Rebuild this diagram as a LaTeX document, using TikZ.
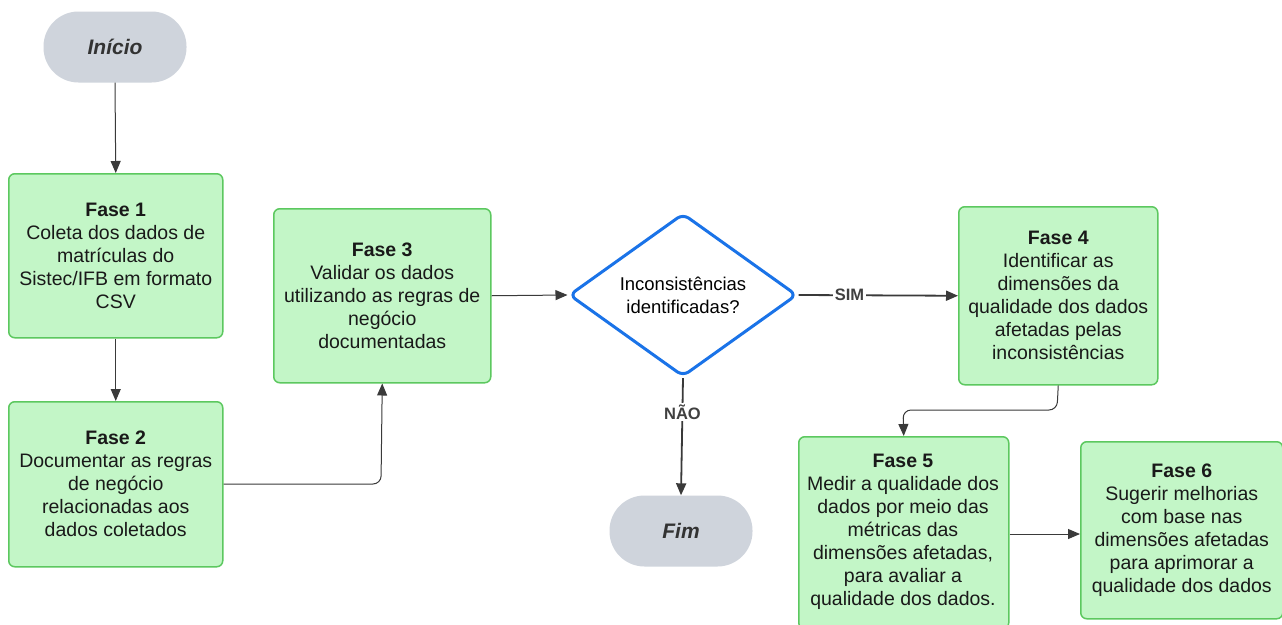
\documentclass[tikz,border=0pt]{standalone}
\usepackage{fontspec}
\setmainfont{Liberation Sans}
\usetikzlibrary{shapes.geometric,arrows.meta,positioning}
\definecolor{boxfill}{HTML}{C3F6C7}
\definecolor{boxline}{HTML}{5CC85F}
\definecolor{pillfill}{HTML}{CFD4DC}
\definecolor{diaLine}{HTML}{1A73E8}
\definecolor{edgecol}{HTML}{3A3A3A}
\begin{document}
\begin{tikzpicture}[x=1pt,y=-1pt,
  phase/.style={draw=boxline,line width=1.5pt,fill=boxfill,rounded corners=6pt,align=center,
    inner sep=0pt,anchor=north west},
  ptext/.style={align=center,font=\fontsize{19.5}{23}\selectfont,text=black!90},
  pill/.style={fill=pillfill,rounded corners=35pt,font=\fontsize{21}{23}\selectfont\bfseries\itshape,
    text=black!80,minimum width=143pt,minimum height=71pt},
  flow/.style={draw=edgecol,line width=1pt,-{Triangle[length=12pt,width=10pt]}},
  bold flow/.style={flow,line width=1.8pt},
  lbl/.style={fill=white,font=\fontsize{16.5}{18}\selectfont\bfseries,text=black!75,inner sep=1.5pt}
]
\useasboundingbox (0,0) rectangle (1282,624);
\fill[white] (0,0) rectangle (1282,624);

\node[pill] (ini) at (115,47) {Início};
\node[pill] (fim) at (681,531) {Fim};

\node[phase,minimum width=214pt,minimum height=164pt] (f1) at (8,173) {};
\node[ptext] at (f1.center) {\textbf{Fase 1}\\Coleta dos dados de\\matrículas do\\Sistec/IFB em formato\\CSV};

\node[phase,minimum width=214pt,minimum height=165pt] (f2) at (8,401) {};
\node[ptext] at (f2.center) {\textbf{Fase 2}\\Documentar as regras\\de negócio\\relacionadas aos\\dados coletados};

\node[phase,minimum width=217pt,minimum height=174pt] (f3) at (273,208) {};
\node[ptext] at (f3.center) {\textbf{Fase 3}\\Validar os dados\\utilizando as regras de\\negócio\\documentadas};

\node[diamond,draw=diaLine,line width=3pt,fill=white,rounded corners=7pt,inner sep=0pt,
  minimum width=228pt,minimum height=162pt,align=center,font=\fontsize{18.5}{23}\selectfont] (dec) at (683,295)
  {Inconsistências\\identificadas?};

\node[phase,minimum width=199pt,minimum height=178pt] (f4) at (958,206) {};
\node[ptext] at (f4.center) {\textbf{Fase 4}\\Identificar as\\dimensões da\\qualidade dos dados\\afetadas pelas\\inconsistências};

\node[phase,minimum width=210pt,minimum height=192pt] (f5) at (798,436) {};
\node[ptext] at (903,532) {\textbf{Fase 5}\\Medir a qualidade dos\\dados por meio das\\métricas das\\dimensões afetadas,\\para avaliar a\\qualidade dos dados.};

\node[phase,minimum width=202pt,minimum height=177pt] (f6) at (1080,441) {};
\node[ptext] at (f6.center) {\textbf{Fase 6}\\Sugerir melhorias\\com base nas\\dimensões afetadas\\para aprimorar a\\qualidade dos dados};

\draw[flow] (ini.south) -- (f1.north);
\draw[flow] (f1.south) -- (f2.north);
\draw[flow,rounded corners=8pt] (f2.east |- 0,484) -- (381,484) -- (f3.south);
\draw[flow] (f3.east) -- (dec.west);
\draw[bold flow] (dec.east) -- node[lbl,pos=0.32]{SIM} (f4.west);
\draw[bold flow] (dec.south) -- node[lbl,pos=0.29]{NÃO} (fim.north);
\draw[flow,rounded corners=8pt] (f4.south) -- (1057,410) -- (903,410) -- (f5.north);
\draw[flow] (f5.east |- 0,534) -- (f6.west |- 0,534);
\end{tikzpicture}
\end{document}
